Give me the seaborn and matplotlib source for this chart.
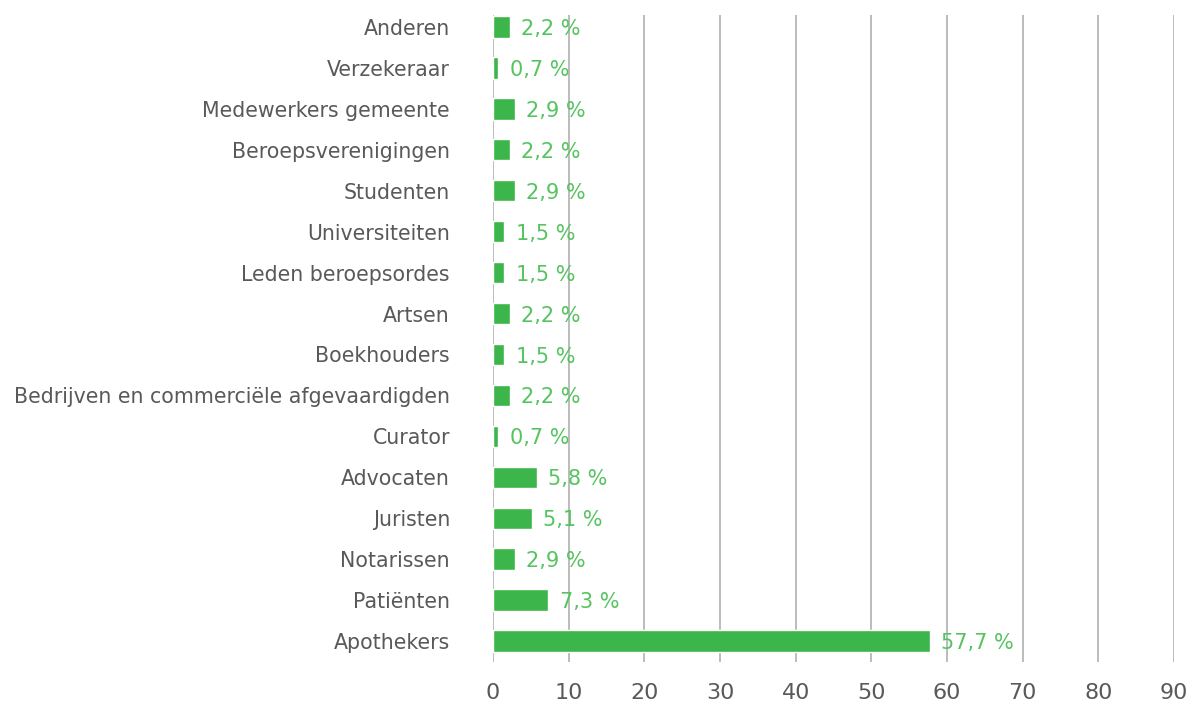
import pandas as pd
import seaborn as sns
import matplotlib.pyplot as plt

categories = ["Anderen", "Verzekeraar", "Medewerkers gemeente", "Beroepsverenigingen",
              "Studenten", "Universiteiten", "Leden beroepsordes", "Artsen", "Boekhouders",
              "Bedrijven en commerciële afgevaardigden", "Curator", "Advocaten", "Juristen",
              "Notarissen", "Patiënten", "Apothekers"]
percent = [2.2, 0.7, 2.9, 2.2, 2.9, 1.5, 1.5, 2.2, 1.5, 2.2, 0.7, 5.8, 5.1, 2.9, 7.3, 57.7]
x_ticks = [0, 10, 20, 30, 40, 50, 60, 70, 80, 90]

df = pd.DataFrame({"groep": categories, "pct": percent})

sns.set_style("white")
plt.rcParams['font.family'] = ['DejaVu Sans']

fig = plt.figure(figsize=(11.92, 7.02), dpi=100)
ax = fig.add_axes([493 / 1192, 40 / 702, 681 / 1192, 647 / 702])

sns.barplot(data=df, x="pct", y="groep", orient="h", color="#3cb54a",
            saturation=1, width=0.52, ax=ax, zorder=3)

ax.set_xlim(0, 90)
ax.set_ylim(15.513, -0.293)
ax.set_xticks(x_ticks)
ax.xaxis.grid(True, color="#aaaaaa", linewidth=1.1, zorder=0)
ax.yaxis.grid(False)
for s in ax.spines.values():
    s.set_visible(False)

ax.tick_params(axis="x", length=0, pad=15, labelsize=16, labelcolor="#595959")
ax.tick_params(axis="y", length=0, pad=31, labelsize=14.8, labelcolor="#595959")
ax.set_xlabel("")
ax.set_ylabel("")

# waardelabels naast de balken
for i, v in enumerate(percent):
    ax.text(v + 1.5, i + 0.05, f"{v:.1f}".replace(".", ",") + " %", va="center", ha="left",
            fontsize=15, color="#55c460", zorder=4)

fig.savefig("out.png", dpi=100)
